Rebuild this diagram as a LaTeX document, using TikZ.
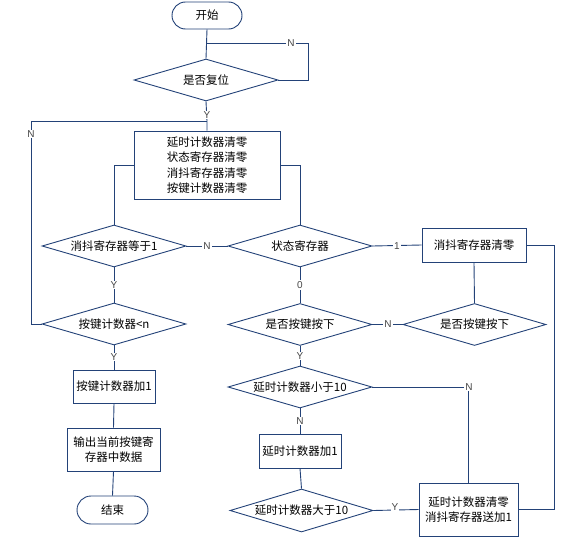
\documentclass[tikz,border=0pt]{standalone}
\usepackage{fontspec}
\newfontfamily\cjk{Noto Sans CJK SC}
\usetikzlibrary{shapes.geometric,shapes.misc}
\definecolor{ln}{RGB}{35,66,120}
\definecolor{lb}{RGB}{70,70,70}
\tikzset{
  every node/.style={text=black},
  txt/.style={font=\cjk\fontsize{11.5}{15.5}\selectfont},
  boxn/.style={txt,draw=ln,line width=0.9pt,rectangle,inner sep=0pt,align=center},
  term/.style={txt,draw=ln,line width=0.9pt,rounded rectangle,inner sep=0pt},
  dia/.style={txt,draw=ln,line width=0.9pt,diamond,aspect=3.43,inner sep=0pt,minimum width=144pt,minimum height=42pt},
  conn/.style={draw=ln,line width=0.9pt},
  lbl/.style={font=\fontspec{Liberation Sans}\fontsize{10}{11}\selectfont,text=lb,fill=white,inner sep=1pt}
}
\begin{document}
\begin{tikzpicture}[x=1pt,y=-1pt]
\useasboundingbox (0,0) rectangle (576,538);
% nodes
\node[term,minimum width=70pt,minimum height=27pt] (start) at (207,15.5) {开始};
\node[dia] (reset) at (206,80) {是否复位};
\node[boxn,minimum width=146pt,minimum height=68pt] (init) at (207,165) {延时计数器清零\\状态寄存器清零\\消抖寄存器清零\\按键计数器清零};
\node[dia] (eq1) at (114,246) {消抖寄存器等于1};
\node[dia] (state) at (300,246) {状态寄存器};
\node[boxn,minimum width=104pt,minimum height=34pt] (clr) at (474,245) {消抖寄存器清零};
\node[dia] (cnt) at (114,324) {按键计数器<n};
\node[dia] (press1) at (300,324.5) {是否按键按下};
\node[dia,minimum width=143pt] (press2) at (474.5,324.5) {是否按键按下};
\node[boxn,minimum width=82pt,minimum height=33pt] (inc) at (114,386.5) {按键计数器加1};
\node[dia] (lt10) at (300,387) {延时计数器小于10};
\node[boxn,minimum width=93pt,minimum height=43pt] (out) at (113.5,449.5) {输出当前按键寄\\存器中数据};
\node[boxn,minimum width=82pt,minimum height=34pt] (dinc) at (300,451) {延时计数器加1};
\node[dia,minimum width=143pt,minimum height=43pt] (gt10) at (301.5,510.5) {延时计数器大于10};
\node[boxn,minimum width=99pt,minimum height=53pt] (rst) at (468.5,509.5) {延时计数器清零\\消抖寄存器送加1};
\node[term,minimum width=71pt,minimum height=28pt] (end) at (112.5,510) {结束};
% junctions
\coordinate (j1) at (207,43);
\coordinate (j2) at (207,121);
% connectors
\draw[conn] (start.south) -- (reset.north);
\draw[conn] (reset.east) -- ++(30,0) |- (j1);
\draw[conn] (reset.south) -- (j2) -- (init.north);
\draw[conn] (j2) -- (31,121) |- (cnt.west);
\draw[conn] (init.west) -| (eq1.north);
\draw[conn] (init.east) -| (state.north);
\draw[conn] (eq1.east) -- (state.west);
\draw[conn] (eq1.south) -- (cnt.north);
\draw[conn] (cnt.south) -- (inc.north);
\draw[conn] (inc.south) -- (out.north);
\draw[conn] (out.south) -- (end.north);
\draw[conn] (state.east) -- (clr.west);
\draw[conn] (clr.south) -- (press2.north);
\draw[conn] (press2.west) -- (press1.east);
\draw[conn] (state.south) -- (press1.north);
\draw[conn] (press1.south) -- (lt10.north);
\draw[conn] (lt10.east) -| (rst.north);
\draw[conn] (lt10.south) -- (dinc.north);
\draw[conn] (dinc.south) -- (gt10.north);
\draw[conn] (gt10.east) -- (rst.west);
\draw[conn] (rst.east) -- ++(36,0) |- (clr.east);
% labels
\node[lbl] at (291,43) {N};
\node[lbl] at (207,115) {Y};
\node[lbl] at (31,134) {N};
\node[lbl] at (207,246) {N};
\node[lbl] at (114,285) {Y};
\node[lbl] at (114,357) {Y};
\node[lbl] at (397,246) {1};
\node[lbl] at (300,285) {0};
\node[lbl] at (388,324.5) {N};
\node[lbl] at (300,356) {Y};
\node[lbl] at (469,387) {N};
\node[lbl] at (300,421) {N};
\node[lbl] at (395,507) {Y};
\end{tikzpicture}
\end{document}
